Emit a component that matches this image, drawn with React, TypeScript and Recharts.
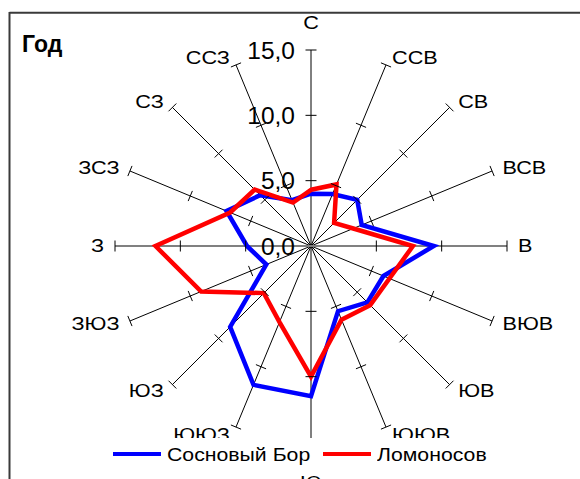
import React from 'react';
import { RadarChart, Radar, PolarGrid, PolarAngleAxis, PolarRadiusAxis, Legend } from 'recharts';

const categories = ['С', 'ССВ', 'СВ', 'ВСВ', 'В', 'ВЮВ', 'ЮВ', 'ЮЮВ', 'Ю', 'ЮЮЗ', 'ЮЗ', 'ЗЮЗ', 'З', 'ЗСЗ', 'СЗ', 'ССЗ'];
const sosnovyBor = [4.0, 4.3, 5.0, 4.2, 9.4, 6.0, 6.1, 5.4, 11.5, 11.5, 8.75, 3.7, 4.9, 7.0, 5.5, 3.8];
const lomonosov = [4.3, 5.1, 2.5, 3.5, 7.8, 6.5, 6.4, 6.1, 10.0, 6.3, 5.1, 9.1, 11.9, 6.7, 6.1, 3.6];
const seriesNames = ['Сосновый Бор', 'Ломоносов'];
const seriesColors = ['#0000FF', '#FF0000'];
const radiusDomain = [0, 15];
const tickLevels = [5, 10, 15];
const title = 'Год';

const data = categories.map((dir, i) => {
  const row: Record<string, any> = { dir, bor: sosnovyBor[i], lom: lomonosov[i] };
  tickLevels.forEach((l) => { row['t' + l] = l; });
  return row;
});

const FONT = '"Liberation Sans", Arial, sans-serif';

const tickMark = (props: any) => {
  const { cx, cy, index } = props;
  if (cx == null || cy == null) return <g key={`tm-${index}`} />;
  const a = ((90 - index * 22.5) * Math.PI) / 180;
  const h = 5.5;
  const px = Math.sin(a) * h;
  const py = Math.cos(a) * h;
  return <line key={`tm-${index}-${cx}`} x1={cx - px} y1={cy - py} x2={cx + px} y2={cy + py} stroke="#000" strokeWidth={1} />;
};

const angleTick = (props: any) => {
  const { x, y, payload, index } = props;
  const ang = (payload.coordinate * Math.PI) / 180;
  const c = Math.cos(ang);
  const s = Math.sin(ang);
  let anchor: any = 'middle';
  let dx = 0;
  let dy = 0;
  if (c > 0.01) { anchor = 'start'; dx = 3; }
  else if (c < -0.01) { anchor = 'end'; dx = -3; }
  else { dy = s > 0 ? -19 : 33; }
  return (
    <text key={`at-${index}`} transform={`translate(${x + dx},${y + dy}) scale(1.17,1)`} x={0} y={0} textAnchor={anchor} dominantBaseline="central" fontSize={18.5} fontFamily={FONT} fill="#000">
      {payload.value}
    </text>
  );
};

const valueTick = (props: any) => {
  const { x, y, payload, index } = props;
  return (
    <text key={`vt-${index}`} x={x - 16} y={y} textAnchor="end" dominantBaseline="central" fontSize={24.5} fontFamily={FONT} fill="#000">
      {Number(payload.value).toFixed(1).replace('.', ',')}
    </text>
  );
};

const renderLegend = () => (
  <div style={{ display: 'flex', alignItems: 'center', height: 34, paddingLeft: 8, fontFamily: FONT, fontSize: 18, color: '#000' }}>
    {seriesNames.map((name, i) => (
      <div key={name} style={{ display: 'flex', alignItems: 'center', marginRight: 12 }}>
        <span style={{ display: 'inline-block', width: 48, height: 4, background: seriesColors[i], marginRight: 6, marginTop: -3 }} />
        <span style={{ display: 'inline-block', width: i === 0 ? 144 : 110, whiteSpace: 'nowrap', overflow: 'visible' }}>
          <span style={{ display: 'inline-block', transform: 'scaleX(1.18)', transformOrigin: 'left center' }}>{name}</span>
        </span>
      </div>
    ))}
  </div>
);

export default function App() {
  return (
    <div style={{ position: 'absolute', left: 0, top: 0, width: 580, height: 479, overflow: 'hidden', background: '#fff' }}>
      <svg width={580} height={479} style={{ position: 'absolute', left: 0, top: 0 }}>
        <line x1={9.5} y1={12.8} x2={580} y2={12.8} stroke="#3a3a3a" strokeWidth={2} />
        <line x1={9.5} y1={12} x2={9.5} y2={479} stroke="#3a3a3a" strokeWidth={2} />
        <text x={22} y={52} fontFamily={FONT} fontWeight="bold" fontSize={23} fill="#000">{title}</text>
      </svg>
      <div style={{ position: 'absolute', left: 0, top: 0 }}>
        <RadarChart width={580} height={479} data={data} cx={311} cy={246} outerRadius={196} margin={{ top: 0, right: 0, bottom: 0, left: 0 }} startAngle={90} endAngle={-270}>
          <PolarGrid gridType="polygon" polarRadius={[]} stroke="#000" strokeWidth={1} />
          <PolarGrid gridType="polygon" polarRadius={[]} polarAngles={[0, 180]} stroke="#808080" strokeWidth={2} />
          <PolarAngleAxis dataKey="dir" tick={angleTick} tickLine={false} axisLine={false} />
          <PolarRadiusAxis angle={90} domain={radiusDomain} type="number" tickCount={4} axisLine={false} tick={valueTick} />
          {tickLevels.map((l) => (
            <Radar key={'t' + l} dataKey={'t' + l} stroke="none" fill="none" dot={tickMark} activeDot={false} legendType="none" isAnimationActive={false} />
          ))}
          <Radar name={seriesNames[0]} dataKey="bor" stroke={seriesColors[0]} strokeWidth={4.5} fill="none" dot={false} isAnimationActive={false} />
          <Radar name={seriesNames[1]} dataKey="lom" stroke={seriesColors[1]} strokeWidth={4.5} fill="none" dot={false} isAnimationActive={false} />
          <Legend content={renderLegend} wrapperStyle={{ left: 105, top: 438, width: 390, height: 34, background: '#fff' }} />
        </RadarChart>
      </div>
    </div>
  );
}
